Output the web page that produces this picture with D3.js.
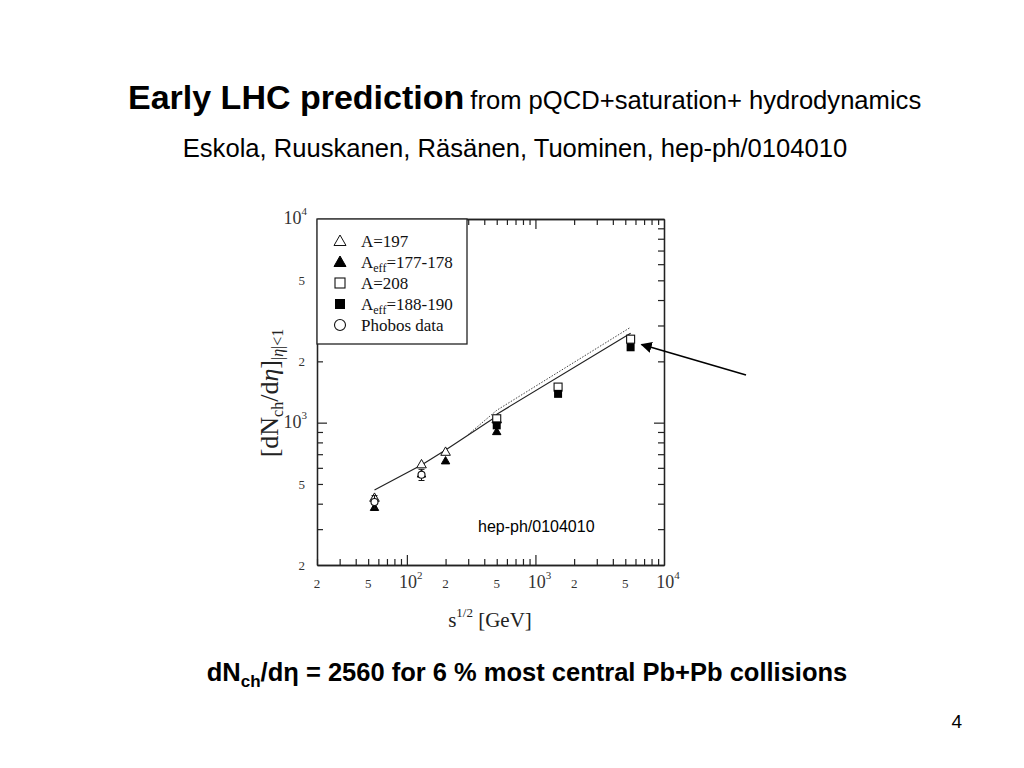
<!DOCTYPE html>
<html><head><meta charset="utf-8">
<script src="https://cdn.jsdelivr.net/npm/d3@7"></script>
<style>
html,body{margin:0;padding:0;background:#fff;}
svg{display:block;}
</style></head>
<body>
<svg id="c" width="1024" height="768"></svg>
<script>
// ---- data ----
const xTickLabels = [[20,"2"],[50,"5"],[100,"10","2"],[200,"2"],[500,"5"],[1000,"10","3"],[2000,"2"],[5000,"5"],[10000,"10","4"]];
const yTickLabels = [[200,"2"],[500,"5"],[1000,"10","3"],[2000,"2"],[5000,"5"],[10000,"10","4"]];
const openTri   = [[56,428],[130,625],[200,720],[500,1040]];          // A=197
const filledTri = [[56,384],[130,560],[200,650],[500,905]];           // Aeff=177-178
const openSq    = [[500,1045],[1500,1495],[5500,2570]];                // A=208
const filledSq  = [[500,970],[1500,1385],[5500,2345]];                 // Aeff=188-190
const phobos    = [[56,408,30],[130,555,35]];                          // Phobos data [x, y, err]
const solidLine = [[56,467],[130,620],[200,734],[500,1075],[500,1100],[5500,2750]];
const dottedLine= [[300,874],[500,1150],[5500,2940]];
const legendItems = [
  {sym:"openTri", parts:[["A=197"]]},
  {sym:"filledTri", parts:[["A"],["eff","sub"],["=177-178"]]},
  {sym:"openSq", parts:[["A=208"]]},
  {sym:"filledSq", parts:[["A"],["eff","sub"],["=188-190"]]},
  {sym:"circle", parts:[["Phobos data"]]}
];

const svg = d3.select("#c");
svg.append("rect").attr("width",1024).attr("height",768).attr("fill","#fff");
const SANS = "'Liberation Sans', Arial, sans-serif";
const SERIF = "'Liberation Serif', 'Times New Roman', serif";

// ---- titles ----
const t1 = svg.append("text").attr("x",128).attr("y",109).attr("font-family",SANS).attr("fill","#000");
t1.append("tspan").attr("font-size",34).attr("font-weight","bold").text("Early LHC prediction");
t1.append("tspan").attr("font-size",25.6).attr("dx",6).text("from pQCD+saturation+ hydrodynamics");
svg.append("text").attr("x",515).attr("y",157).attr("text-anchor","middle").attr("font-family",SANS)
  .attr("font-size",25.6).text("Eskola, Ruuskanen, Räsänen, Tuominen, hep-ph/0104010");

const b = svg.append("text").attr("x",527).attr("y",681).attr("text-anchor","middle").attr("font-family",SANS)
  .attr("font-size",25.5).attr("font-weight","bold");
b.append("tspan").text("dN");
b.append("tspan").attr("font-size",17).attr("dy",6).text("ch");
b.append("tspan").attr("dy",-6).text("/dη = 2560 for 6 % most central Pb+Pb collisions");
svg.append("text").attr("x",962).attr("y",728).attr("text-anchor","end").attr("font-family",SANS).attr("font-size",19).text("4");

// ---- plot ----
const L=317, R=664, T=219, B=565;
const x = d3.scaleLog().domain([20,10000]).range([L,R]);
const y = d3.scaleLog().domain([200,10000]).range([B,T]);

const minorX = [], majorX=[100,1000];
[10,100,1000].forEach(d=>{for(let k=2;k<=9;k++){const v=d*k; if(v>=20 && v<10000) minorX.push(v);}});
const minorY = [], majorY=[1000];
[100,1000].forEach(d=>{for(let k=2;k<=9;k++){const v=d*k; if(v>200 && v<10000) minorY.push(v);}});

const g = svg.append("g");
function styleAxis(sel){ sel.select(".domain").attr("stroke","#222").attr("stroke-width",1.3); sel.selectAll(".tick line").attr("stroke","#222").attr("stroke-width",1.2); sel.selectAll("text").remove(); }
g.append("g").attr("transform",`translate(0,${B})`).call(d3.axisBottom(x).tickValues(minorX).tickSizeInner(-6).tickSizeOuter(0)).call(styleAxis);
g.append("g").attr("transform",`translate(0,${B})`).call(d3.axisBottom(x).tickValues(majorX).tickSizeInner(-10).tickSizeOuter(0)).call(styleAxis);
g.append("g").attr("transform",`translate(0,${T})`).call(d3.axisTop(x).tickValues(minorX).tickSizeInner(-6).tickSizeOuter(0)).call(styleAxis);
g.append("g").attr("transform",`translate(0,${T})`).call(d3.axisTop(x).tickValues(majorX).tickSizeInner(-10).tickSizeOuter(0)).call(styleAxis);
g.append("g").attr("transform",`translate(${L},0)`).call(d3.axisLeft(y).tickValues(minorY).tickSizeInner(-6).tickSizeOuter(0)).call(styleAxis);
g.append("g").attr("transform",`translate(${L},0)`).call(d3.axisLeft(y).tickValues(majorY).tickSizeInner(-10).tickSizeOuter(0)).call(styleAxis);
g.append("g").attr("transform",`translate(${R},0)`).call(d3.axisRight(y).tickValues(minorY).tickSizeInner(-6).tickSizeOuter(0)).call(styleAxis);
g.append("g").attr("transform",`translate(${R},0)`).call(d3.axisRight(y).tickValues(majorY).tickSizeInner(-10).tickSizeOuter(0)).call(styleAxis);

// tick labels
xTickLabels.forEach(d=>{
  const t = svg.append("text").attr("x",x(d[0])).attr("y",B+23).attr("text-anchor","middle").attr("font-family",SERIF).attr("fill","#333");
  if(d[2]){ t.attr("font-size",18).append("tspan").text(d[1]); t.append("tspan").attr("font-size",11).attr("dy",-9).text(d[2]); t.attr("dx",4);}
  else { t.attr("font-size",13).text(d[1]); }
});
yTickLabels.forEach(d=>{
  const t = svg.append("text").attr("x",L-12).attr("y",y(d[0])+5).attr("text-anchor","end").attr("font-family",SERIF).attr("fill","#333");
  if(d[2]){ t.attr("font-size",18).attr("x",L-10).append("tspan").text(d[1]); t.append("tspan").attr("font-size",11).attr("dy",-9).text(d[2]); }
  else { t.attr("font-size",13).text(d[1]); }
});

// axis titles
const xl = svg.append("text").attr("x",490).attr("y",627).attr("text-anchor","middle").attr("font-family",SERIF).attr("font-size",21).attr("fill","#222");
xl.append("tspan").text("s");
xl.append("tspan").attr("font-size",13).attr("dy",-10).text("1/2");
xl.append("tspan").attr("dy",10).text(" [GeV]");

const yl = svg.append("text").attr("transform","translate(278,393) rotate(-90)").attr("text-anchor","middle").attr("font-family",SERIF).attr("font-size",26).attr("fill","#222");
yl.append("tspan").text("[dN");
yl.append("tspan").attr("font-size",16).attr("dy",5).text("ch");
yl.append("tspan").attr("dy",-5).text("/d");
yl.append("tspan").attr("font-style","italic").text("η");
yl.append("tspan").text("]");
yl.append("tspan").attr("font-size",16).attr("dy",5).text("|");
yl.append("tspan").attr("font-size",16).attr("font-style","italic").text("η");
yl.append("tspan").attr("font-size",16).text("|<1");

// lines
const line = d3.line().x(d=>x(d[0])).y(d=>y(d[1]));
g.append("path").datum(dottedLine).attr("d",line).attr("fill","none").attr("stroke","#444").attr("stroke-width",1).attr("stroke-dasharray","1.5,1.5");
g.append("path").datum(solidLine).attr("d",line).attr("fill","none").attr("stroke","#222").attr("stroke-width",1.2);

// symbols
const triPath = s=>`M0,${-s*0.6}L${s*0.6},${s*0.45}L${-s*0.6},${s*0.45}Z`;
function drawSym(sel, type, s){
  if(type==="openTri") sel.append("path").attr("d",triPath(s)).attr("fill","#fff").attr("stroke","#111").attr("stroke-width",1);
  if(type==="filledTri") sel.append("path").attr("d",triPath(s)).attr("fill","#000").attr("stroke","#000").attr("stroke-width",1);
  if(type==="openSq") sel.append("rect").attr("x",-s/2).attr("y",-s/2).attr("width",s).attr("height",s).attr("fill","#fff").attr("stroke","#111").attr("stroke-width",1.1);
  if(type==="filledSq") sel.append("rect").attr("x",-s/2).attr("y",-s/2).attr("width",s).attr("height",s).attr("fill","#000");
  if(type==="circle") sel.append("circle").attr("r",s/2).attr("fill","#fff").attr("stroke","#111").attr("stroke-width",1.1);
}
function plotSeries(data,type,s){
  data.forEach(d=>{ const gg=g.append("g").attr("transform",`translate(${x(d[0])},${y(d[1])})`); drawSym(gg,type,s); });
}
plotSeries(openTri,"openTri",8);
plotSeries(openSq,"openSq",8);
plotSeries(filledSq,"filledSq",8);
plotSeries(filledTri,"filledTri",7);
phobos.forEach(d=>{
  const cx=x(d[0]), y0=y(d[1]-d[2]), y1=y(d[1]+d[2]);
  g.append("line").attr("x1",cx).attr("x2",cx).attr("y1",y0).attr("y2",y1).attr("stroke","#111");
  g.append("line").attr("x1",cx-3).attr("x2",cx+3).attr("y1",y0).attr("y2",y0).attr("stroke","#111");
  g.append("line").attr("x1",cx-3).attr("x2",cx+3).attr("y1",y1).attr("y2",y1).attr("stroke","#111");
  const gg=g.append("g").attr("transform",`translate(${cx},${y(d[1])})`); drawSym(gg,"circle",7);
});

// legend
const lg = svg.append("g");
lg.append("rect").attr("x",L).attr("y",T).attr("width",150).attr("height",125).attr("fill","#fff").attr("stroke","#222").attr("stroke-width",1.3);
legendItems.forEach((it,i)=>{
  const yy = T+22+i*21;
  const sg = lg.append("g").attr("transform",`translate(340,${yy})`);
  drawSym(sg,it.sym,it.sym.endsWith("Tri")?10:(it.sym==="circle"?11:10));
  const t = lg.append("text").attr("x",361).attr("y",yy+5.5).attr("font-family",SERIF).attr("font-size",17).attr("fill","#111");
  let sub=false;
  it.parts.forEach(p=>{
    const ts = t.append("tspan").text(p[0]);
    if(p[1]==="sub"){ ts.attr("font-size",12).attr("dy",4); sub=true; }
    else if(sub){ ts.attr("dy",-4); sub=false; }
  });
});

// annotation
svg.append("text").attr("x",478).attr("y",532).attr("font-family",SANS).attr("font-size",16).text("hep-ph/0104010");
svg.append("defs").append("marker").attr("id","ah").attr("viewBox","0 0 10 10").attr("refX",9).attr("refY",5)
  .attr("markerWidth",7).attr("markerHeight",7).attr("orient","auto")
  .append("path").attr("d","M0,0L10,5L0,10Z").attr("fill","#000");
svg.append("line").attr("x1",746).attr("y1",375).attr("x2",x(5500)+11).attr("y2",y(2420))
  .attr("stroke","#000").attr("stroke-width",1.6).attr("marker-end","url(#ah)");
</script>
</body></html>
